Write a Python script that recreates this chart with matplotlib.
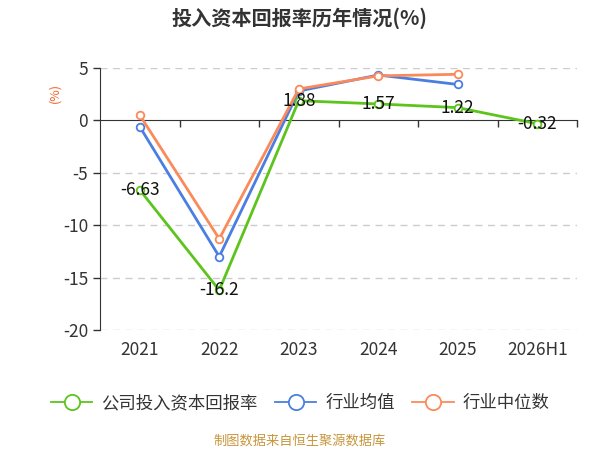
import matplotlib
matplotlib.use("Agg")
import matplotlib.pyplot as plt
import matplotlib.transforms as mtransforms
from matplotlib.lines import Line2D

plt.rcParams['font.family'] = ['Noto Sans CJK SC', 'DejaVu Sans']
plt.rcParams['axes.unicode_minus'] = False

categories = ["2021", "2022", "2023", "2024", "2025", "2026H1"]
company = [-6.63, -16.2, 1.88, 1.57, 1.22, -0.32]
industry_mean = [-0.6, -13.0, 2.8, 4.33, 3.43]
industry_median = [0.5, -11.3, 3.0, 4.25, 4.4]

GREEN = "#5cc41c"
BLUE = "#4a7ee0"
ORANGE = "#fb8a5a"

fig = plt.figure(figsize=(6, 4.5), dpi=100)
ax = fig.add_axes([100 / 600, 1 - 330 / 450, 477 / 600, 262 / 450])

x = list(range(len(categories)))

ax.plot(x[:len(industry_mean)], industry_mean, color=BLUE, lw=2, marker='o', ms=5.5,
        mfc='white', mec=BLUE, mew=1.3, zorder=3)
ax.plot(x[:len(industry_median)], industry_median, color=ORANGE, lw=2, marker='o', ms=5.5,
        mfc='white', mec=ORANGE, mew=1.3, zorder=4)
ax.plot(x, company, color=GREEN, lw=2, marker='o', ms=5.5,
        mfc='white', mec=GREEN, mew=1.3, zorder=5)

for xi, v in zip(x, company):
    ax.text(xi, v, f"{v:g}", ha='center', va='center', fontsize=12.5, color='#111', zorder=6)

ax.set_xlim(-0.5, len(categories) - 0.5)
ax.set_ylim(-20, 5)
ax.set_yticks([5, 0, -5, -10, -15, -20])
ax.tick_params(axis='y', labelsize=12.5, colors='#333', length=5, width=1)
for g in [5, -5, -10, -15, -20]:
    ax.axhline(g, color='#cccccc', lw=1, ls=(0, (5, 4)), zorder=0)

for s in ['top', 'right']:
    ax.spines[s].set_visible(False)
ax.spines['left'].set_color('#333')
ax.spines['bottom'].set_position(('data', 0))
ax.spines['bottom'].set_color('#333')
ax.set_xticks([i + 0.5 for i in x])
ax.tick_params(axis='x', labelbottom=False, length=5, width=1, colors='#333')

trans = mtransforms.blended_transform_factory(ax.transData, ax.transAxes)
for xi, c in zip(x, categories):
    ax.text(xi, -0.075, c, transform=trans, ha='center', va='center', fontsize=12.5, color='#333')

fig.text(55 / 600, 1 - 93 / 450, "(%)", rotation=90, ha='center', va='center',
         fontsize=9, color='#f0642d')

fig.text(0.5, 1 - 18 / 450, "投入资本回报率历年情况(%)", ha='center', va='center',
         fontsize=14.5, fontweight='bold', color='#333')

legend_items = [("公司投入资本回报率", GREEN), ("行业均值", BLUE), ("行业中位数", ORANGE)]
handles = [Line2D([], [], color=c, lw=1.3, marker='o', ms=11, mfc='white', mec=c, mew=1.3)
           for _, c in legend_items]
fig.legend(handles, [n for n, _ in legend_items],
           loc='center', bbox_to_anchor=(0.5, 1 - 403 / 450), ncol=3, frameon=False,
           fontsize=12.5, handlelength=2.4, columnspacing=1.0, handletextpad=0.5,
           labelcolor='#333')

fig.text(0.5, 1 - 441 / 450, "制图数据来自恒生聚源数据库", ha='center', va='center',
         fontsize=9.5, color='#c8963c')

fig.savefig("out.png", dpi=100)
